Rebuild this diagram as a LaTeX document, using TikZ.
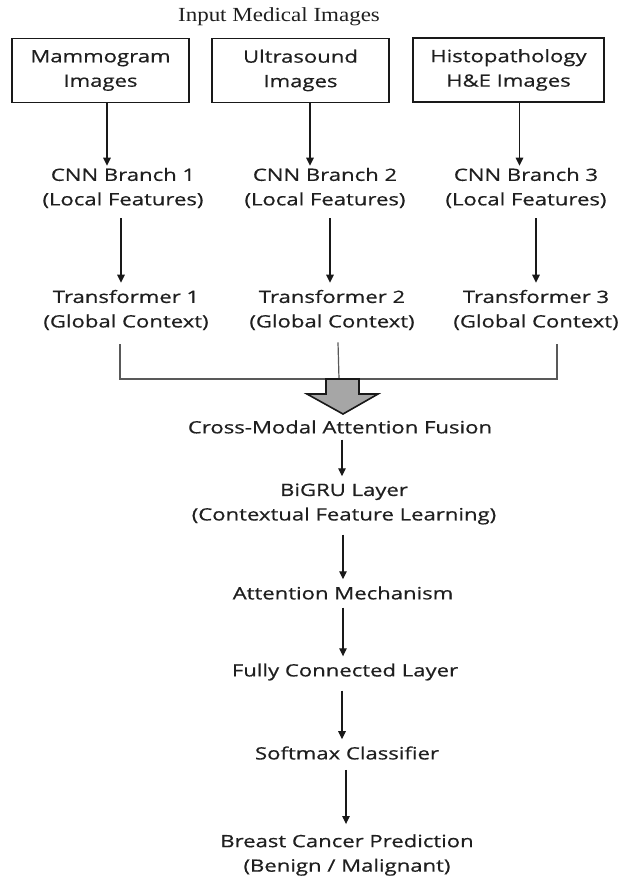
\documentclass[tikz,border=0pt]{standalone}
\usepackage{fontspec}
\setmainfont[FakeStretch=1.3, FakeBold=0.6]{Open Sans}
\newfontfamily\titlefont[FakeStretch=1.15]{Liberation Serif}
\usetikzlibrary{arrows.meta}

\begin{document}
\begin{tikzpicture}[x=1pt, y=-1pt,
  every node/.style={align=center, inner sep=2pt, text=black!88, font=\fontsize{17}{24.5}\selectfont},
  inbox/.style={draw=black!90, line width=1.6pt, minimum height=64pt},
  arr/.style={-{Triangle[width=7.5pt,length=8pt]}, line width=1.1pt, black!90},
  link/.style={line width=1.2pt, black!65},
  fuse/.style={draw=black!90, line width=1.6pt, fill=black!35, line join=miter}]
  \useasboundingbox (0,0) rectangle (621,878);
  % inputs
  \node[font=\titlefont\fontsize{20}{24}\selectfont] (title) at (279,17) {Input Medical Images};
  \node[inbox, minimum width=177pt] (mammo) at (100.5,70.5) {Mammogram\\Images};
  \node[inbox, minimum width=177pt] (ultra) at (300.5,70.5) {Ultrasound\\Images};
  \node[inbox, minimum width=191pt] (histo) at (508.5,70) {Histopathology\\H\&E Images};
  % branches
  \node (cnn1) at (123,188) {CNN Branch 1\\(Local Features)};
  \node (cnn2) at (325,188) {CNN Branch 2\\(Local Features)};
  \node (cnn3) at (526,188) {CNN Branch 3\\(Local Features)};
  \node (trf1) at (126,310) {Transformer 1\\(Global Context)};
  \node (trf2) at (332,310) {Transformer 2\\(Global Context)};
  \node (trf3) at (536,310) {Transformer 3\\(Global Context)};
  % fusion and head
  \node (fusion) at (340,427) {Cross-Modal Attention Fusion};
  \node (bigru) at (344,504) {BiGRU Layer\\(Contextual Feature Learning)};
  \node (attn) at (343,593) {Attention Mechanism};
  \node (fc) at (345,672) {Fully Connected Layer};
  \node (softmax) at (347,753) {Softmax Classifier};
  \node (pred) at (347,855) {Breast Cancer Prediction\\(Benign / Malignant)};
  \coordinate (join) at (339,379);

  \draw[arr] ([xshift=6.5pt]mammo.south) -- ([xshift=6.5pt]mammo.south |- cnn1.north);
  \draw[arr] ([xshift=9.5pt]ultra.south) -- ([xshift=9.5pt]ultra.south |- cnn2.north);
  \draw[arr] ([xshift=11pt]histo.south) -- ([xshift=11pt]histo.south |- cnn3.north);
  \draw[arr, shorten <=8pt, shorten >=5pt] ([xshift=-2pt]cnn1.south) -- ([xshift=-2pt]cnn1.south |- trf1.north);
  \draw[arr, shorten <=8pt, shorten >=5pt] ([xshift=5pt]cnn2.south) -- ([xshift=5pt]cnn2.south |- trf2.north);
  \draw[arr, shorten <=8pt, shorten >=5pt] ([xshift=10pt]cnn3.south) -- ([xshift=10pt]cnn3.south |- trf3.north);

  \draw[link] ([xshift=-6pt, yshift=-12pt]trf1.south) |- (join);
  \draw[link] ([xshift=21pt, yshift=-12pt]trf3.south) |- (join);
  \draw[link] ([xshift=6pt, yshift=-10pt]trf2.south) -- (join);
  \draw[fuse] ([xshift=-13pt]join) -- ++(33,0) -- ++(0,15) -- ++(19,0) -- ++(-35,20)
    -- ++(-36,-20) -- ++(19,0) -- cycle;

  \draw[arr, shorten <=4pt, shorten >=5pt] ([xshift=2pt]fusion.south) -- ([xshift=2pt]fusion.south |- bigru.north);
  \draw[arr, shorten <=8pt, shorten >=5pt] ([xshift=-1pt]bigru.south) -- ([xshift=-1pt]bigru.south |- attn.north);
  \draw[arr, shorten <=6pt, shorten >=5pt] (attn.south) -- (attn.south |- fc.north);
  \draw[arr, shorten <=8pt, shorten >=5pt] ([xshift=-3pt]fc.south) -- ([xshift=-3pt]fc.south |- softmax.north);
  \draw[arr, shorten <=8pt, shorten >=8pt] ([xshift=-1pt]softmax.south) -- ([xshift=-1pt]softmax.south |- pred.north);
\end{tikzpicture}
\end{document}
